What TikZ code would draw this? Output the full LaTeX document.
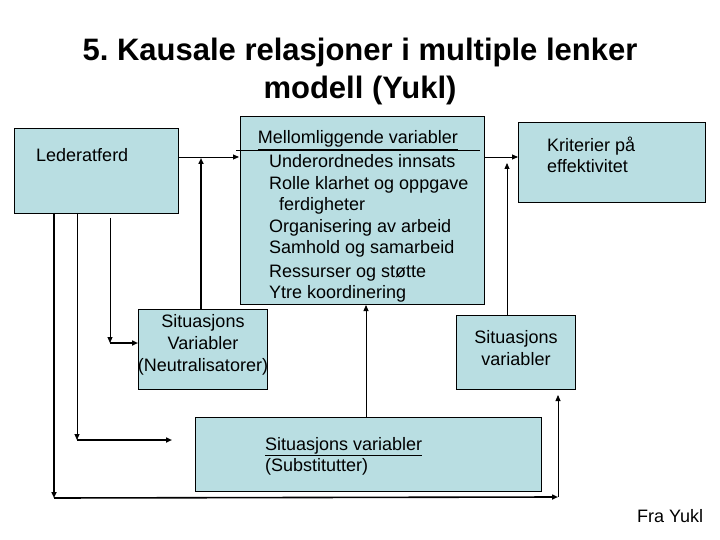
\documentclass[tikz,border=0pt]{standalone}
\usepackage{fontspec}
\setmainfont{Liberation Sans}
\usetikzlibrary{arrows.meta}
\begin{document}
\frenchspacing
\begin{tikzpicture}[x=1pt,y=-1pt,
  box/.style={draw=black,fill=boxc,line width=0.8pt},
  t/.style={font=\fontsize{18}{21}\selectfont,inner sep=0pt,anchor=base west},
  tc/.style={font=\fontsize{18}{22}\selectfont,inner sep=0pt,anchor=north,align=center},
  ar/.style={-{Triangle[length=6pt,width=5pt]},line width=0.8pt},
  arb/.style={-{Triangle[length=6pt,width=5pt]},line width=1.6pt}]
\definecolor{boxc}{RGB}{185,222,226}
\useasboundingbox (0,0) rectangle (720,540);
\node[font=\bfseries\fontsize{31}{38}\selectfont,inner sep=0pt,anchor=base] (title) at (360,61) {5. Kausale relasjoner i multiple lenker};
\node[font=\bfseries\fontsize{31}{38}\selectfont,inner sep=0pt,anchor=base] (title2) at (360,99) {modell (Yukl)};
% boxes
\draw[box] (14,128) rectangle (178,213);
\node[t] (led) at (36,162) {Lederatferd};
\draw[box] (240,116) rectangle (484,304);
\node[t,anchor=base] (mt) at (358,144) {\underline{Mellomliggende variabler}};
\node[t] (m1) at (269,168) {Underordnedes innsats};
\node[t] (m2) at (269,190) {Rolle klarhet og oppgave};
\node[t] (m3) at (279,211) {ferdigheter};
\node[t] (m4) at (269,233) {Organisering av arbeid};
\node[t] (m5) at (269,254) {Samhold og samarbeid};
\node[t] (m6) at (269,277) {Ressurser og støtte};
\node[t] (m7) at (269,298) {Ytre koordinering};
\draw[box] (518,122) rectangle (705,202);
\node[t] (k1) at (547,152) {Kriterier på};
\node[t] (k2) at (547,173) {effektivitet};
\draw[box] (138,309) rectangle (267,389);
\node[tc] (n) at (203,314) {Situasjons\\Variabler\\(Neutralisatorer)};
\draw[box] (456,315) rectangle (575,389);
\node[tc] (s) at (516,330) {Situasjons\\variabler};
\draw[box] (195,417) rectangle (541,491);
\node[t] (sub1) at (265,450) {\underline{Situasjons variabler}};
\node[t] (sub2) at (265,471) {(Substitutter)};
\node[t] (fra) at (637,522) {Fra Yukl};
% connectors
\coordinate (a1) at (178,157); \coordinate (a2) at (239,157);
\draw[ar] (a1) -- (a2);
\coordinate (l1) at (236,150); \coordinate (l2) at (480,150);
\draw[line width=0.8pt] (l1) -- (l2);
\coordinate (n1) at (201,309); \coordinate (n2) at (201,158);
\draw[arb] (n1) -- (n2);
\coordinate (b1) at (484,157); \coordinate (b2) at (518,157);
\draw[ar] (b1) -- (b2);
\coordinate (c1) at (507,315); \coordinate (c2) at (507,163);
\draw[ar] (c1) -- (c2);
\coordinate (d1) at (366,417); \coordinate (d2) at (366,305);
\draw[ar] (d1) -- (d2);
\coordinate (e1) at (110,218); \coordinate (e2) at (110,343); \coordinate (e3) at (138,343);
\draw[ar] (e1) -- (e2); \draw[arb] (e2) -- (e3);
\coordinate (f1) at (77,213); \coordinate (f2) at (77,440); \coordinate (f3) at (172,440);
\draw[ar] (f1) -- (f2); \draw[arb] (f2) -- (f3);
\coordinate (g1) at (54,213); \coordinate (g2) at (54,498); \coordinate (g3) at (558,497); \coordinate (g4) at (558,395);
\draw[arb] (g1) -- (g2); \draw[arb] (g2) -- (g3); \draw[ar] (g3) -- (g4);
\end{tikzpicture}
\end{document}
